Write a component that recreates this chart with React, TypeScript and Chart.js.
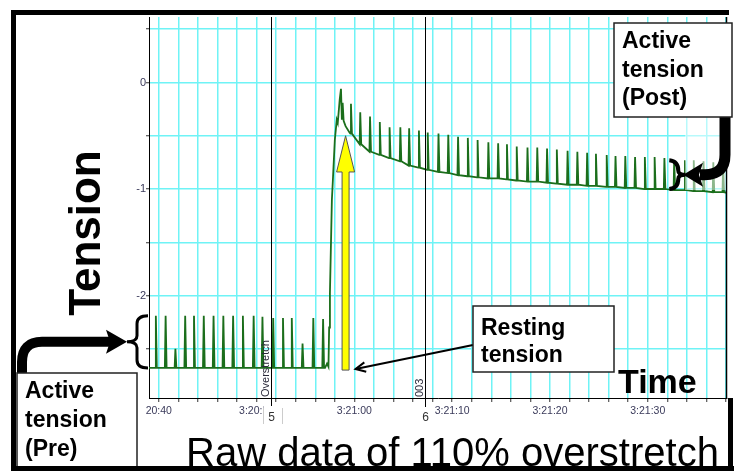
import React, { useEffect, useRef } from "react";
import { Chart, registerables } from "chart.js";
Chart.register(...registerables);

const W = 736;
const H = 471;
const FONT = '"Liberation Sans", Arial, Helvetica, sans-serif';

// ---- axis definitions (seconds after 3:20:40) ----
const xMin = -1.0;
const xMax = 58.1;
const yMin = -2.962;
const yMax = 0.615;
const xGridSeconds = [0, 2, 4, 6, 8, 10, 12, 14, 16, 18, 20, 22, 24, 26, 28, 30, 32, 34, 36, 38, 40, 42, 44, 46, 48, 50, 52, 54, 56, 58];
const xLabelSeconds = [0, 10, 20, 30, 40, 50];
const xLabels = ["20:40", "3:20:50", "3:21:00", "3:21:10", "3:21:20", "3:21:30"];
const yGridValues = [-2.5, -2, -1.5, -1, -0.5, 0, 0.5];
const yLabelValues = [-2, -1, 0];
const yLabels = ["-2", "-1", "0"];

// ---- event markers ----
const markerTimes = [11.5, 27.25];
const markerNumbers = ["5", "6"];
const markerTexts = ["Overstretch", "003"];

// ---- pre-stretch twitches ----
const preStart = -1.0;
const preBase = -2.68;
const preTwitchT = [-0.3, 0.7, 1.7, 2.7, 3.6, 4.6, 5.6, 6.6, 7.6, 8.6, 9.7, 10.6, 11.7, 12.7, 13.6, 14.7, 15.8, 16.8];
const preTwitchPeak = [-2.19, -2.19, -2.5, -2.19, -2.19, -2.19, -2.19, -2.19, -2.19, -2.19, -2.19, -2.2, -2.21, -2.21, -2.21, -2.45, -2.21, -2.22];

// ---- stretch ramp ----
const rampT = [17.0, 17.2, 17.35, 17.42, 17.5, 17.7, 17.8, 18.0, 18.2, 18.3, 18.5, 18.63, 18.72, 18.8, 18.9, 19.1, 19.5];
const rampV = [-2.68, -2.64, -2.67, -2.3, -1.98, -1.1, -0.92, -0.54, -0.35, -0.38, -0.16, -0.06, -0.35, -0.19, -0.36, -0.41, -0.47];

// ---- post-stretch twitches ----
const postTwitchT = [19.65, 20.6, 21.6, 22.6, 23.6, 24.7, 25.6, 26.6, 27.5, 28.6, 29.6, 30.6, 31.6, 32.6, 33.7, 34.7, 35.6, 36.6, 37.7, 38.7, 39.7, 40.7, 41.8, 42.8, 43.8, 44.7, 45.8, 46.7, 47.7, 48.7, 49.7, 50.7, 51.7, 52.7, 53.8, 54.7, 55.7, 56.7, 57.7];
const postTwitchPeak = [-0.2, -0.28, -0.32, -0.37, -0.42, -0.42, -0.43, -0.45, -0.47, -0.48, -0.49, -0.51, -0.52, -0.54, -0.56, -0.57, -0.58, -0.6, -0.61, -0.61, -0.62, -0.63, -0.64, -0.65, -0.66, -0.67, -0.68, -0.69, -0.69, -0.7, -0.7, -0.7, -0.71, -0.73, -0.73, -0.73, -0.74, -0.75, -0.76];
const postBase = [-0.48, -0.58, -0.65, -0.68, -0.71, -0.74, -0.78, -0.8, -0.82, -0.84, -0.85, -0.87, -0.88, -0.89, -0.9, -0.9, -0.91, -0.92, -0.93, -0.93, -0.94, -0.95, -0.96, -0.96, -0.97, -0.97, -0.98, -0.98, -0.99, -0.99, -1.0, -1.0, -1.0, -1.01, -1.01, -1.02, -1.02, -1.03, -1.03];
const endT = 58.1;
const endV = -1.035;

// ---- annotation anchors (data space) ----
const arrowT = 19.1;
const arrowBottomV = -2.7;
const arrowHeadBaseV = -0.84;
const arrowTipV = -0.5;
const postBraceT = 52.2;
const postBraceTopV = -0.73;
const postBraceBottomV = -1.0;

function buildPoints() {
  const pts: { x: number; y: number }[] = [{ x: preStart, y: preBase }];
  preTwitchT.forEach((t, i) => {
    pts.push({ x: t - 0.08, y: preBase });
    pts.push({ x: t, y: preTwitchPeak[i] });
    pts.push({ x: t + 0.1, y: preBase });
  });
  rampT.forEach((t, i) => pts.push({ x: t, y: rampV[i] }));
  postTwitchT.forEach((t, i) => {
    pts.push({ x: t - 0.06, y: postBase[i] });
    pts.push({ x: t, y: postTwitchPeak[i] });
    pts.push({ x: t + 0.1, y: postBase[i] });
  });
  pts.push({ x: endT, y: endV });
  return pts;
}

function textBox(ctx: CanvasRenderingContext2D, x: number, y: number, w: number, h: number, lines: string[], tx: number, baselines: number[]) {
  ctx.save();
  ctx.fillStyle = "#fff";
  ctx.fillRect(x, y, w, h);
  ctx.strokeStyle = "#222";
  ctx.lineWidth = 1.5;
  ctx.strokeRect(x, y, w, h);
  ctx.fillStyle = "#000";
  ctx.font = `bold 23px ${FONT}`;
  ctx.textAlign = "left";
  ctx.textBaseline = "alphabetic";
  lines.forEach((l, i) => ctx.fillText(l, tx, baselines[i]));
  ctx.restore();
}

const annotPlugin = {
  id: "annot",
  beforeDraw(chart: any) {
    const ctx = chart.ctx as CanvasRenderingContext2D;
    ctx.save();
    ctx.fillStyle = "#fff";
    ctx.fillRect(0, 0, chart.width, chart.height);
    ctx.restore();
  },
  afterDraw(chart: any) {
    const ctx = chart.ctx as CanvasRenderingContext2D;
    const a = chart.chartArea;
    const xs = chart.scales.x;
    const ys = chart.scales.y;
    ctx.save();

    // plot right border
    ctx.strokeStyle = "#000";
    ctx.lineWidth = 1.5;
    ctx.beginPath();
    ctx.moveTo(a.right - 0.5, a.top);
    ctx.lineTo(a.right - 0.5, a.bottom);
    ctx.stroke();

    // event markers
    markerTimes.forEach((t, i) => {
      const px = Math.round(xs.getPixelForValue(t)) + 0.5;
      ctx.strokeStyle = "#000";
      ctx.lineWidth = 1;
      ctx.beginPath();
      ctx.moveTo(px, a.top);
      ctx.lineTo(px, a.bottom + 9);
      ctx.stroke();
      ctx.save();
      ctx.translate(px - 3, a.bottom - 1);
      ctx.rotate(-Math.PI / 2);
      ctx.font = `11px ${FONT}`;
      ctx.fillStyle = "#2a2a3a";
      ctx.textAlign = "left";
      ctx.textBaseline = "alphabetic";
      ctx.fillText(markerTexts[i], 0, 0);
      ctx.restore();
      if (i === 0) {
        ctx.fillStyle = "#fff";
        ctx.fillRect(px - 8, a.bottom + 8, 19, 20);
        ctx.strokeStyle = "#ccc";
        ctx.beginPath();
        ctx.moveTo(px - 8, a.bottom + 10);
        ctx.lineTo(px - 8, a.bottom + 26);
        ctx.moveTo(px + 11, a.bottom + 10);
        ctx.lineTo(px + 11, a.bottom + 26);
        ctx.stroke();
      }
      ctx.font = `12px ${FONT}`;
      ctx.fillStyle = "#333";
      ctx.textAlign = "center";
      ctx.textBaseline = "middle";
      ctx.fillText(markerNumbers[i], px, a.bottom + 20);
    });

    // faded region near post arrow
    ctx.fillStyle = "rgba(255,255,255,0.5)";
    ctx.fillRect(685, 117, a.right - 686, 73);

    // yellow arrow
    const ax = xs.getPixelForValue(arrowT);
    const ab = ys.getPixelForValue(arrowBottomV);
    const ah = ys.getPixelForValue(arrowHeadBaseV);
    const at = ys.getPixelForValue(arrowTipV);
    ctx.beginPath();
    ctx.moveTo(ax - 3.5, ab);
    ctx.lineTo(ax - 3.5, ah);
    ctx.lineTo(ax - 9, ah);
    ctx.lineTo(ax, at);
    ctx.lineTo(ax + 9, ah);
    ctx.lineTo(ax + 3.5, ah);
    ctx.lineTo(ax + 3.5, ab);
    ctx.closePath();
    ctx.fillStyle = "#ffff00";
    ctx.fill();
    ctx.strokeStyle = "#555";
    ctx.lineWidth = 1;
    ctx.stroke();

    // resting tension pointer
    const rx0 = 473, ry0 = 345;
    const rx1 = ax + 10, ry1 = ys.getPixelForValue(-2.69);
    ctx.strokeStyle = "#000";
    ctx.lineWidth = 2;
    ctx.beginPath();
    ctx.moveTo(rx0, ry0);
    ctx.lineTo(rx1, ry1);
    ctx.stroke();
    const ang = Math.atan2(ry0 - ry1, rx0 - rx1);
    ctx.beginPath();
    ctx.moveTo(rx1 + 11 * Math.cos(ang - 0.45), ry1 + 11 * Math.sin(ang - 0.45));
    ctx.lineTo(rx1, ry1);
    ctx.lineTo(rx1 + 11 * Math.cos(ang + 0.45), ry1 + 11 * Math.sin(ang + 0.45));
    ctx.stroke();

    // left brace
    const bt = ys.getPixelForValue(-2.19);
    const bb = ys.getPixelForValue(-2.68);
    const bm = (bt + bb) / 2;
    const bx = a.left - 1;
    ctx.lineWidth = 3;
    ctx.beginPath();
    ctx.moveTo(bx, bt);
    ctx.quadraticCurveTo(bx - 11, bt, bx - 11, bt + 8);
    ctx.lineTo(bx - 11, bm - 6);
    ctx.quadraticCurveTo(bx - 11, bm, bx - 21, bm);
    ctx.quadraticCurveTo(bx - 11, bm, bx - 11, bm + 6);
    ctx.lineTo(bx - 11, bb - 8);
    ctx.quadraticCurveTo(bx - 11, bb, bx, bb);
    ctx.stroke();

    // thick arrow from Pre box
    ctx.lineWidth = 10;
    ctx.lineCap = "butt";
    ctx.beginPath();
    ctx.moveTo(22, 374);
    ctx.lineTo(22, 362);
    ctx.quadraticCurveTo(22, bm, 42, bm);
    ctx.lineTo(112, bm);
    ctx.stroke();
    ctx.fillStyle = "#000";
    ctx.beginPath();
    ctx.moveTo(106, bm - 12);
    ctx.lineTo(bx - 21, bm);
    ctx.lineTo(106, bm + 12);
    ctx.lineTo(110, bm);
    ctx.closePath();
    ctx.fill();

    // right brace (post)
    const px2 = xs.getPixelForValue(postBraceT);
    const pt = ys.getPixelForValue(postBraceTopV);
    const pb = ys.getPixelForValue(postBraceBottomV);
    const pm = (pt + pb) / 2;
    ctx.lineWidth = 4;
    ctx.beginPath();
    ctx.moveTo(px2, pt);
    ctx.quadraticCurveTo(px2 + 9, pt + 1, px2 + 9, pm - 4);
    ctx.quadraticCurveTo(px2 + 9, pm, px2 + 16, pm);
    ctx.quadraticCurveTo(px2 + 9, pm, px2 + 9, pm + 4);
    ctx.quadraticCurveTo(px2 + 9, pb - 1, px2, pb);
    ctx.stroke();
    ctx.lineWidth = 11;
    ctx.beginPath();
    ctx.moveTo(725, 116);
    ctx.lineTo(725, pm - 20);
    ctx.quadraticCurveTo(725, pm, 705, pm);
    ctx.lineTo(700, pm);
    ctx.stroke();
    ctx.beginPath();
    ctx.moveTo(703, pm - 12);
    ctx.lineTo(px2 + 14, pm);
    ctx.lineTo(703, pm + 12);
    ctx.lineTo(699, pm);
    ctx.closePath();
    ctx.fill();

    // text boxes
    textBox(ctx, 614, 23, 118, 94, ["Active", "tension", "(Post)"], 622, [48, 77, 105]);
    textBox(ctx, 473, 306, 141, 66, ["Resting", "tension"], 481, [335, 362]);
    textBox(ctx, 17, 373, 120, 95, ["Active", "tension", "(Pre)"], 25, [398, 427, 456]);

    // big labels
    ctx.fillStyle = "#000";
    ctx.save();
    ctx.translate(100, 233);
    ctx.rotate(-Math.PI / 2);
    ctx.font = `bold 44px ${FONT}`;
    ctx.textAlign = "center";
    ctx.textBaseline = "alphabetic";
    ctx.fillText("Tension", 0, 0);
    ctx.restore();

    ctx.font = `bold 34px ${FONT}`;
    ctx.textAlign = "left";
    ctx.textBaseline = "alphabetic";
    ctx.fillText("Time", 618, 393);

    ctx.font = `40px ${FONT}`;
    ctx.fillText("Raw data of 110% overstretch", 186, 466);

    // outer frame
    ctx.fillStyle = "#000";
    ctx.fillRect(11, 10, 5, 461);
    ctx.fillRect(11, 10, 718, 5);
    ctx.fillRect(11, 466, 723, 5);
    ctx.fillRect(728, 398, 5, 73);

    ctx.restore();
  },
};

export default function App() {
  const ref = useRef<HTMLCanvasElement>(null);
  useEffect(() => {
    const labelFor = (v: number, vals: number[], labels: string[]) => {
      const i = vals.findIndex((q) => Math.abs(q - v) < 1e-6);
      return i >= 0 ? labels[i] : "";
    };
    const chart = new Chart(ref.current as HTMLCanvasElement, {
      type: "line",
      data: {
        datasets: [
          {
            data: buildPoints(),
            borderColor: "#1b6e1b",
            borderWidth: 1.8,
            pointRadius: 0,
            tension: 0,
          },
        ],
      },
      options: {
        responsive: false,
        devicePixelRatio: 1,
        animation: false,
        parsing: false,
        layout: { padding: { left: 100, top: 17, right: 9, bottom: 43 } },
        plugins: { legend: { display: false }, tooltip: { enabled: false } },
        scales: {
          x: {
            type: "linear",
            min: xMin,
            max: xMax,
            afterFit: (s: any) => {
              s.height = 30;
            },
            afterBuildTicks: (s: any) => {
              s.ticks = xGridSeconds.map((v) => ({ value: v }));
            },
            ticks: {
              autoSkip: false,
              maxRotation: 0,
              minRotation: 0,
              padding: 3,
              color: "#3a3a5a",
              font: { family: FONT, size: 10.5 },
              callback: (v: any) => labelFor(Number(v), xLabelSeconds, xLabels),
            },
            grid: { color: "#6ff3f6", lineWidth: 1.5, tickColor: "#333", tickLength: 4, tickWidth: 1 },
            border: { display: true, color: "#000", width: 1 },
          },
          y: {
            type: "linear",
            min: yMin,
            max: yMax,
            afterFit: (s: any) => {
              s.width = 49;
            },
            afterBuildTicks: (s: any) => {
              s.ticks = yGridValues.map((v) => ({ value: v }));
            },
            ticks: {
              autoSkip: false,
              padding: 0,
              color: "#3a3a5a",
              font: { family: FONT, size: 11 },
              callback: (v: any) => labelFor(Number(v), yLabelValues, yLabels),
            },
            grid: { color: "#6ff3f6", lineWidth: 1.5, tickColor: "#333", tickLength: 3, tickWidth: 1 },
            border: { display: true, color: "#000", width: 1 },
          },
        },
      },
      plugins: [annotPlugin],
    } as any);
    return () => chart.destroy();
  }, []);
  return (
    <div style={{ position: "absolute", left: 0, top: 0, width: W, height: H, background: "#fff" }}>
      <canvas ref={ref} width={W} height={H} style={{ display: "block", width: W, height: H }} />
    </div>
  );
}
